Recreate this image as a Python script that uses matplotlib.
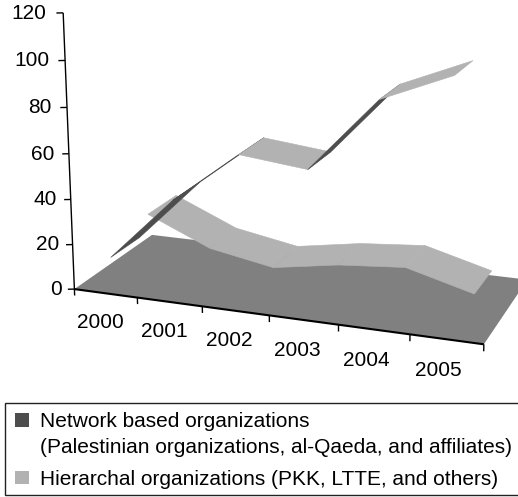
import numpy as np
import matplotlib

matplotlib.use("Agg")
import matplotlib.pyplot as plt
from matplotlib.patches import Rectangle
from mpl_toolkits.mplot3d.art3d import Line3DCollection, Poly3DCollection

plt.rcParams["font.family"] = ["Liberation Sans", "DejaVu Sans"]

years = ["2000", "2001", "2002", "2003", "2004", "2005"]
y_ticks = [0, 20, 40, 60, 80, 100, 120]
network = [14.5, 43, 65.4, 62, 93.2, 105]
hierarchical = [22.5, 10, 4.7, 9.5, 12, 4]
legend_labels = [
    "Network based organizations",
    "(Palestinian organizations, al-Qaeda, and affiliates)",
    "Hierarchal organizations (PKK, LTTE, and others)",
]

FLOOR = "#808080"
LIGHT = "#b2b2b2"
DARK = "#4d4d4d"
NETWORK_DEPTH = (0.07, 0.43)
HIERARCHICAL_DEPTH = (0.55, 0.94)
FONT_SIZE = 15

# Perspective camera: (year slot, value, depth) -> pixel position on the page
CAMERA = np.array(
    [
        [60.87, -0.1141, 93.0, 74.39],
        [3.954, -2.306, -30.44, 289.1],
        [0.0, 0.0, 1.0, 0.0],
        [-0.01524, -0.0003267, 0.1012, 1.0],
    ]
)


def to_pixel(x, y, z):
    u, v, _, w = CAMERA @ np.array([x, y, z, 1.0])
    return u / w, v / w


def left_of_axis(tick, distance):
    """Year slot and depth of a point `distance` pixels left of the value axis"""
    return -0.01315 * distance, tick, -0.00219 * distance


def draw_ribbon(ax, values, depth, zorder):
    """Draws one 3D line series as a ribbon, one quad per year step"""
    near, far = depth
    for i in range(len(values) - 1):
        x0, x1 = i + 0.5, i + 1.5
        quad = [
            (x0, values[i], near),
            (x1, values[i + 1], near),
            (x1, values[i + 1], far),
            (x0, values[i], far),
        ]
        # The underside of the ribbon is shaded dark
        a, b, d = (np.array(to_pixel(*quad[k])) for k in (0, 1, 3))
        top = np.cross(b - a, d - a) < 0
        color = LIGHT if top else DARK
        ax.add_collection3d(
            Poly3DCollection(
                [quad], facecolors=color, edgecolors=color, linewidths=0.4, zorder=zorder
            )
        )


fig = plt.figure(figsize=(5.18, 4.97), dpi=100)
# The 3D axes keep a square box, so it overhangs the page by the height difference
ax = fig.add_axes([0, -10.5 / 497, 1, 518 / 497], projection="3d", computed_zorder=False)
ax.set_axis_off()
ax.get_proj = lambda: CAMERA
ax.viewLim.intervalx = (0, 518)
ax.viewLim.intervaly = (507.5, -10.5)

# Flat axes in page pixels for all text and the legend
overlay = fig.add_axes([0, 0, 1, 1], zorder=5)
overlay.set_xlim(0, 518)
overlay.set_ylim(497, 0)
overlay.axis("off")

floor = [(0, 0, 0), (6, 0, 0), (6, 0, 1), (0, 0, 1)]
ax.add_collection3d(
    Poly3DCollection([floor], facecolors=FLOOR, edgecolors="none", zorder=1)
)
draw_ribbon(ax, hierarchical, HIERARCHICAL_DEPTH, zorder=2)
draw_ribbon(ax, network, NETWORK_DEPTH, zorder=3)

# Value axis with ticks and labels
value_axis = [[(0, 0, 0), (0, y_ticks[-1], 0)]]
value_axis += [[(0, tick, 0), left_of_axis(tick, 6.5)] for tick in y_ticks]
ax.add_collection3d(
    Line3DCollection(value_axis, colors="black", linewidths=1.0, zorder=4)
)
for tick in y_ticks:
    u, v = to_pixel(*left_of_axis(tick, 12.5 + tick * 0.03))
    overlay.text(u, v, str(tick), ha="right", va="center", fontsize=FONT_SIZE)

# Year axis along the front edge of the floor
year_ticks = [[(i, 0, 0), (i, -2.9, 0)] for i in range(len(years) + 1)]
ax.add_collection3d(
    Line3DCollection(year_ticks, colors="black", linewidths=1.0, zorder=4)
)
ax.add_collection3d(
    Line3DCollection([[(0, 0, 0), (6, 0, 0)]], colors="black", linewidths=1.5, zorder=4)
)
for i, year in enumerate(years):
    u, v = to_pixel(i + 0.4, -13.5, 0)
    overlay.text(u, v, year, ha="center", va="center", fontsize=FONT_SIZE)

# Legend box runs off the right side of the page
overlay.add_patch(
    Rectangle((4.8, 402.5), 520, 92.5, facecolor="white", edgecolor="#222222", lw=1.0)
)
overlay.add_patch(Rectangle((15, 412.7), 13.7, 14, facecolor=DARK, edgecolor="none"))
overlay.add_patch(Rectangle((15, 470.7), 13.7, 13.5, facecolor=LIGHT, edgecolor="none"))
overlay.text(40, 426.7, legend_labels[0], va="baseline", fontsize=FONT_SIZE)
overlay.text(40, 452.7, legend_labels[1], va="baseline", fontsize=FONT_SIZE)
overlay.text(40, 485, legend_labels[2], va="baseline", fontsize=FONT_SIZE)

fig.savefig("out.png", dpi=100)
